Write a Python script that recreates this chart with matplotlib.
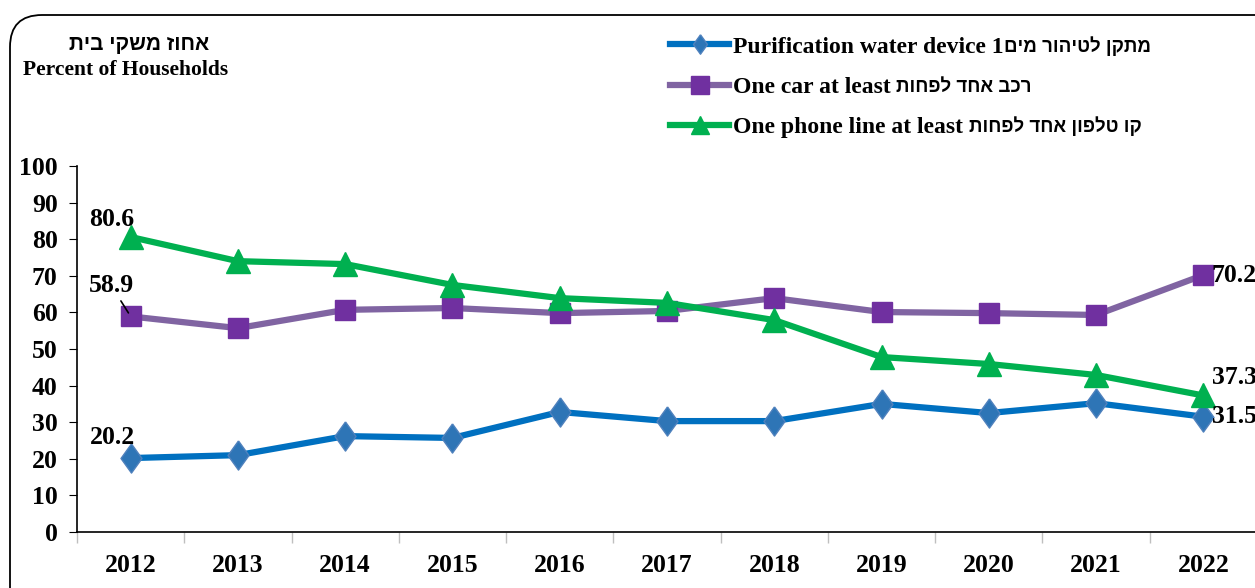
import numpy as np
import matplotlib
matplotlib.use('Agg')
import matplotlib.pyplot as plt
from matplotlib.patches import FancyBboxPatch
from matplotlib.transforms import IdentityTransform
from matplotlib.font_manager import FontProperties

# data
years = ['2012', '2013', '2014', '2015', '2016', '2017', '2018', '2019', '2020', '2021', '2022']
water = [20.2, 21.0, 26.2, 25.7, 32.8, 30.3, 30.3, 35.0, 32.5, 35.2, 31.5]
car = [58.9, 55.7, 60.7, 61.2, 59.8, 60.4, 63.9, 60.1, 59.8, 59.3, 70.2]
phone = [80.6, 74.0, 73.2, 67.5, 63.9, 62.6, 57.9, 47.8, 45.9, 42.9, 37.3]
y_ticks = [0, 10, 20, 30, 40, 50, 60, 70, 80, 90, 100]

title_he = 'אחוז משקי בית'
title_en = 'Percent of Households'
labels_en = ['Purification water device 1', 'One car at least', 'One phone line at least']
labels_he = ['מתקן לטיהור מים', 'רכב אחד לפחות', 'קו טלפון אחד לפחות']

# hebrew is right-to-left, matplotlib draws left-to-right, so reverse it
def heb(s):
    return s[::-1]

plt.rcParams['font.family'] = ['Liberation Serif', 'DejaVu Serif']
plt.rcParams['font.weight'] = 'bold'
heb_family = ['Liberation Sans', 'DejaVu Sans']

W, H = 1255, 588
fig = plt.figure(figsize=(W / 100, H / 100), dpi=100)
ax = fig.add_axes([77 / W, 56 / H, 1180 / W, 366 / H])

# rounded frame around the chart area (pixel coords)
frame = FancyBboxPatch((10, -40), 1300, H - 15 + 40,
                       boxstyle='round,pad=0,rounding_size=32',
                       transform=IdentityTransform(), fill=False,
                       edgecolor='black', linewidth=1.3)
fig.add_artist(frame)

# slightly tall diamond like the original
tall_diamond = [(0, 1), (0.72, 0), (0, -1), (-0.72, 0), (0, 1)]

ax.plot(years, water, color='#0070C0', lw=4.5, marker=tall_diamond, ms=21,
        mfc='#2E75B6', mec='#4F81BD', mew=1, label=labels_en[0], zorder=3)
ax.plot(years, car, color='#8064A2', lw=4.5, marker='s', ms=15,
        mfc='#7030A0', mec='#7030A0', label=labels_en[1], zorder=3)
ax.plot(years, phone, color='#00B050', lw=4.5, marker='^', ms=17,
        mfc='#00B050', mec='#00B050', label=labels_en[2], zorder=3)

ax.set_xlim(-0.5, 10.5)
ax.set_ylim(0, 100)
ax.set_yticks(y_ticks)
ax.set_xticks(np.arange(-0.5, 11, 1), minor=True)
ax.tick_params(axis='x', which='major', length=0, pad=16, labelsize=18.5)
ax.tick_params(axis='x', which='minor', length=8, color='#BFBFBF', width=1)
ax.tick_params(axis='y', length=6, labelsize=18.5, pad=8)
for lbl in ax.get_xticklabels() + ax.get_yticklabels():
    lbl.set_fontweight('bold')
ax.spines['top'].set_visible(False)
ax.spines['right'].set_visible(False)
ax.spines['left'].set_linewidth(1.2)
ax.spines['bottom'].set_linewidth(1.2)

# value labels at first and last year
fs = 18.5
ax.annotate('80.6', (0, phone[0]), xytext=(-14, 4.5), textcoords='offset points',
            ha='center', va='bottom', fontsize=fs, fontweight='bold')
ax.annotate('58.9', (0, car[0]), xytext=(-14, 14), textcoords='offset points',
            ha='center', va='bottom', fontsize=fs, fontweight='bold',
            arrowprops=dict(arrowstyle='-', color='black', lw=1.2,
                            shrinkA=1, shrinkB=3))
ax.annotate('20.2', (0, water[0]), xytext=(-13, 6.5), textcoords='offset points',
            ha='center', va='bottom', fontsize=fs, fontweight='bold')
ax.annotate('70.2', (10, car[-1]), xytext=(6, 0), textcoords='offset points',
            ha='left', va='center', fontsize=fs, fontweight='bold')
ax.annotate('37.3', (10, phone[-1]), xytext=(6, 13), textcoords='offset points',
            ha='left', va='center', fontsize=fs, fontweight='bold')
ax.annotate('31.5', (10, water[-1]), xytext=(6, 0), textcoords='offset points',
            ha='left', va='center', fontsize=fs, fontweight='bold')

fig.text(139 / W, 1 - 45 / H, heb(title_he), ha='center', va='center',
         fontsize=15, fontweight='bold', family=heb_family)
fig.text(126 / W, 1 - 70 / H, title_en, ha='center', va='center',
         fontsize=15.5, fontweight='bold')

leg = fig.legend(loc='upper left', bbox_to_anchor=(670 / W, 1 - 36 / H),
                 frameon=False, handlelength=2.5, handletextpad=0.15,
                 labelspacing=0.8, borderaxespad=0, borderpad=0,
                 prop={'weight': 'bold', 'size': 17})
for hnd, ms in zip(leg.legend_handles, [14, 13, 13]):
    hnd.set_markersize(ms)

# hebrew part of each legend label goes right after the english part
fig.canvas.draw()
r = fig.canvas.get_renderer()
lp = FontProperties(family=['Liberation Serif'], weight='bold', size=17)
# text boxes always reserve the descent of "lp" below the baseline
_, _, d = r.get_text_width_height_descent('lp', lp, ismath=False)
for t, he in zip(leg.get_texts(), labels_he):
    bb = t.get_window_extent(r)
    gap = 1 if t.get_text().endswith('1') else 6
    fig.text((bb.x1 + gap) / W, (bb.y0 + d + 1) / H, heb(he), ha='left',
             va='baseline', fontsize=13.5, fontweight='bold', family=heb_family)

fig.savefig('out.png', dpi=100)
